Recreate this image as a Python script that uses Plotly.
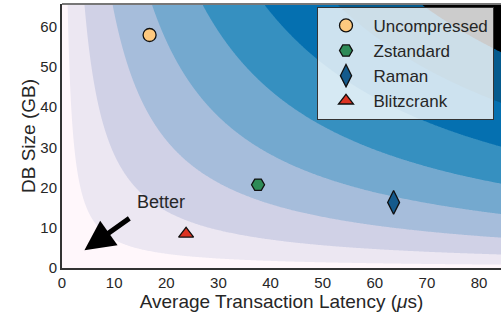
import numpy as np
import plotly.graph_objects as go

# ---- data ----
methods = ["Uncompressed", "Zstandard", "Raman", "Blitzcrank"]
latency_us = [16.8, 37.6, 63.6, 23.8]
db_size_gb = [57.9, 20.7, 16.3, 8.5]
marker_symbols = ["circle", "hexagon2", "diamond-tall", "triangle-up"]
marker_colors = ["#fec97f", "#2e8b57", "#145a8c", "#dd3322"]
marker_sizes = [13, 13, 17, 13]

x_ticks = [0, 10, 20, 30, 40, 50, 60, 70, 80]
y_ticks = [0, 10, 20, 30, 40, 50, 60]

band_colors = ["#fff7fb", "#ece7f2", "#d0d1e6", "#a6bddb", "#74a9cf",
               "#3690c0", "#0570b0", "#045a8d", "#000000"]
level_step = 8.4

# background field: geometric mean of latency and size
gx = np.linspace(0, 86, 400)
gy = np.linspace(0, 67, 400)
GX, GY = np.meshgrid(gx, gy)
GZ = np.sqrt(GX * GY)

n = len(band_colors)
cs = []
for i, c in enumerate(band_colors):
    lo = 0 if i == 0 else (i - 0.5) / (n - 1)
    hi = 1 if i == n - 1 else (i + 0.5) / (n - 1)
    cs.append([lo, c])
    cs.append([hi, c])

FONT = "Liberation Sans, Arial, Helvetica, sans-serif"
TXT = "#262626"

fig = go.Figure()
fig.add_trace(go.Contour(
    x=gx, y=gy, z=GZ,
    contours=dict(start=level_step, end=level_step * (n - 1), size=level_step,
                  coloring="fill", showlines=False),
    line=dict(width=0),
    colorscale=cs, showscale=False, hoverinfo="skip", showlegend=False,
))

for m, xv, yv, s, c, sz in zip(methods, latency_us, db_size_gb, marker_symbols,
                               marker_colors, marker_sizes):
    fig.add_trace(go.Scatter(
        x=[xv], y=[yv], mode="markers", name=m,
        marker=dict(symbol=s, color=c, size=sz,
                    line=dict(color="#111111", width=1.3)),
    ))

fig.add_annotation(
    x=4.3, y=4.4, ax=13.2, ay=12.6, xref="x", yref="y", axref="x", ayref="y",
    text="", showarrow=True, arrowhead=2, arrowsize=1.2, arrowwidth=5,
    arrowcolor="#000000",
)
fig.add_annotation(
    x=18.9, y=16.5, xref="x", yref="y", text="Better", showarrow=False,
    font=dict(family=FONT, size=18, color=TXT),
)

fig.add_shape(type="line", xref="paper", yref="paper", x0=0, x1=1, y0=1, y1=1,
              line=dict(color="#777777", width=2))

fig.update_layout(
    width=501, height=316,
    margin=dict(l=62, r=0, t=4, b=48),
    paper_bgcolor="white", plot_bgcolor="white",
    font=dict(family=FONT, color=TXT),
    legend=dict(
        x=0.582, y=0.989, xanchor="left", yanchor="top",
        bgcolor="rgba(255,255,255,0.8)", bordercolor="#333333", borderwidth=1,
        font=dict(family=FONT, size=17, color=TXT),
        itemsizing="trace", tracegroupgap=0, itemwidth=45,
    ),
    xaxis=dict(
        range=[0, 84.2], tickvals=x_ticks, showgrid=False, zeroline=False,
        showline=True, linecolor="#333333", linewidth=2, ticks="",
        tickfont=dict(size=15, color=TXT), automargin=False,
        title=dict(text="Average Transaction Latency (<i>μ</i>s)",
                   font=dict(size=19, color=TXT), standoff=4),
    ),
    yaxis=dict(
        range=[0, 65.6], tickvals=y_ticks, showgrid=False, zeroline=False,
        showline=True, linecolor="#333333", linewidth=2, ticks="",
        tickfont=dict(size=15, color=TXT), automargin=False,
        title=dict(text="DB Size (GB)", font=dict(size=19, color=TXT), standoff=0),
    ),
)

fig.write_html(
    "out.html",
    config={"displayModeBar": False},
    post_script="document.body.style.margin='0';document.body.style.padding='0';"
                "document.body.style.overflow='hidden';",
)
